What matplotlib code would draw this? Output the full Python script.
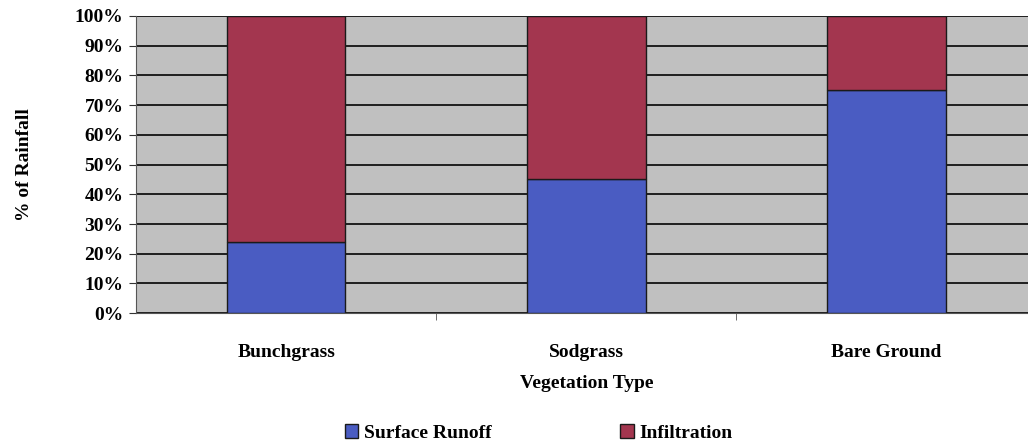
import numpy as np
import matplotlib.pyplot as plt
from matplotlib.ticker import PercentFormatter

categories = ["Bunchgrass", "Sodgrass", "Bare Ground"]
runoff = [24, 45, 75]
infiltration = [76, 55, 25]

plt.rcParams['font.family'] = ['Liberation Serif', 'DejaVu Serif']
plt.rcParams['font.weight'] = 'bold'

fig = plt.figure(figsize=(10.28, 4.43), dpi=100)
ax = fig.add_axes([0.1323, 0.293, 0.876, 0.671])

x = np.arange(len(categories))
ax.bar(x, runoff, width=0.395, color="#4a5cc2", edgecolor="#1a1a1a", linewidth=1,
       label="Surface Runoff", zorder=3)
ax.bar(x, infiltration, width=0.395, bottom=runoff, color="#a3364f", edgecolor="#1a1a1a",
       linewidth=1, label="Infiltration", zorder=3)

ax.set_facecolor("#c0c0c0")
ax.set_xlim(-0.5, 2.5)
ax.set_ylim(0, 100)
ax.set_yticks(np.arange(0, 101, 10))
ax.yaxis.set_major_formatter(PercentFormatter(decimals=0))
ax.yaxis.grid(True, color="#111111", linewidth=1.3, zorder=0)
ax.set_xticks(x)
ax.set_xticklabels(categories)
ax.set_xticks([0.5, 1.5], minor=True)
ax.tick_params(axis='x', which='major', length=0, pad=22, labelsize=14)
ax.tick_params(axis='x', which='minor', length=5, color="#555555")
ax.tick_params(axis='y', length=5, labelsize=14, color="#333333", pad=4)
for s in ["top", "right"]:
    ax.spines[s].set_visible(False)
ax.spines["left"].set_color("#555555")
ax.spines["bottom"].set_color("#555555")

ax.set_xlabel("Vegetation Type", fontsize=14, fontweight='bold', labelpad=10)
ax.set_ylabel("% of Rainfall", fontsize=14, fontweight='bold', labelpad=30)

fig.legend(loc="lower center", bbox_to_anchor=(0.524, -0.037), ncol=2, frameon=False,
           fontsize=14, handlelength=0.7, handleheight=0.7, columnspacing=6.6,
           handletextpad=0.3)

fig.savefig("out.png", dpi=100)
